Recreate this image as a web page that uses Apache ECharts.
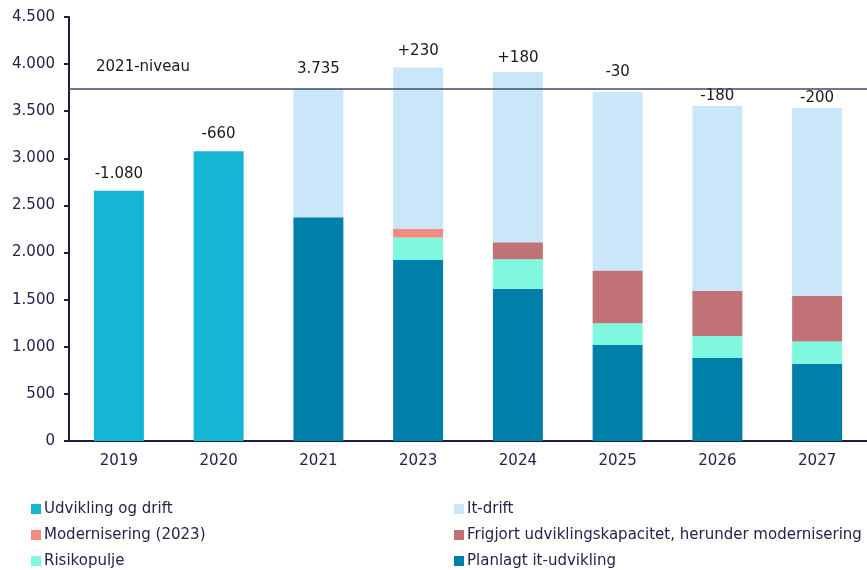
<!DOCTYPE html>
<html>
<head>
<meta charset="utf-8">
<script src="https://cdn.jsdelivr.net/npm/echarts@6/dist/echarts.min.js"></script>
<style>
html,body{margin:0;padding:0;background:#fff;}
#chart{width:867px;height:570px;}
</style>
</head>
<body>
<div id="chart"></div>
<script>
const categories = ['2019','2020','2021','2023','2024','2025','2026','2027'];
const udviklingOgDrift = [2655, 3075, null, null, null, null, null, null];
const planlagtItUdvikling = [null, null, 2375, 1920, 1615, 1020, 880, 820];
const risikopulje = [null, null, null, 240, 315, 230, 235, 235];
const modernisering2023 = [null, null, null, 90, null, null, null, null];
const frigjort = [null, null, null, null, 180, 560, 480, 485];
const itDrift = [null, null, 1360, 1715, 1805, 1895, 1960, 1995];
const topLabels = ['-1.080', '-660', '3.735', '+230', '+180', '-30', '-180', '-200'];
const niveau2021 = 3735;
const yTicks = [0, 500, 1000, 1500, 2000, 2500, 3000, 3500, 4000, 4500];

const FONT = '"DejaVu Sans", sans-serif';
const labelGap = [9, 10, 12, 9, 7, 12, 2, 2];

function fmt(v){ return String(v).replace(/\B(?=(\d{3})+(?!\d))/g, '.'); }

function topLabel(isTop){
  return {
    show: true, position: 'top', color: '#1a1a1a', fontSize: 15, fontFamily: FONT,
    formatter: p => isTop(p.dataIndex) ? topLabels[p.dataIndex] : ''
  };
}

function withLabels(arr, isTop){
  return arr.map((v, i) => {
    if (v == null) return v;
    if (!isTop(i)) return v;
    return { value: v, label: { distance: labelGap[i] } };
  });
}

const chart = echarts.init(document.getElementById('chart'), null, {renderer: 'canvas'});
const isUdTop = i => udviklingOgDrift[i] != null;
const isItTop = i => itDrift[i] != null;

const legendText = { fontSize: 15, color: '#24234a', fontFamily: FONT, lineHeight: 18, padding: [0,0,0,-2] };

const option = {
  animation: false,
  textStyle: { fontFamily: FONT },
  grid: { left: 69, top: 17, width: 802, bottom: 129 },
  legend: [
    {
      orient: 'vertical', left: 31, top: 500, padding: 0, itemWidth: 10, itemHeight: 10, itemGap: 8,
      icon: 'rect', textStyle: legendText,
      data: ['Udvikling og drift', 'Modernisering (2023)', 'Risikopulje']
    },
    {
      orient: 'vertical', left: 454, top: 500, padding: 0, itemWidth: 10, itemHeight: 10, itemGap: 8,
      icon: 'rect', textStyle: legendText,
      data: ['It-drift', 'Frigjort udviklingskapacitet, herunder modernisering', 'Planlagt it-udvikling']
    }
  ],
  xAxis: {
    type: 'category', data: categories,
    axisLine: { lineStyle: { color: '#1f1d3d', width: 2 } },
    axisTick: { show: false },
    axisLabel: { color: '#24234a', fontSize: 15, margin: 13, fontFamily: FONT }
  },
  yAxis: {
    type: 'value', min: yTicks[0], max: yTicks[yTicks.length-1], interval: 500,
    splitLine: { show: false },
    axisLine: { show: true, lineStyle: { color: '#1f1d3d', width: 2 } },
    axisTick: { show: true, length: 5, lineStyle: { color: '#1f1d3d', width: 2 } },
    axisLabel: { color: '#24234a', fontSize: 15, margin: 14, fontFamily: FONT, formatter: v => fmt(v) }
  },
  series: [
    { name: 'Udvikling og drift', type: 'bar', stack: 'a', barWidth: 50, itemStyle: { color: '#14b6d3' },
      data: withLabels(udviklingOgDrift, isUdTop), label: topLabel(isUdTop),
      markLine: { symbol: 'none', silent: true, label: { show: false },
        lineStyle: { color: '#3f4b63', width: 1.5, type: 'solid' },
        data: [{ yAxis: niveau2021 }] } },
    { name: 'Planlagt it-udvikling', type: 'bar', stack: 'a', barWidth: 50, itemStyle: { color: '#007fa8' }, data: planlagtItUdvikling },
    { name: 'Risikopulje', type: 'bar', stack: 'a', barWidth: 50, itemStyle: { color: '#80f8e0' }, data: risikopulje },
    { name: 'Modernisering (2023)', type: 'bar', stack: 'a', barWidth: 50, itemStyle: { color: '#f48b80' }, data: modernisering2023 },
    { name: 'Frigjort udviklingskapacitet, herunder modernisering', type: 'bar', stack: 'a', barWidth: 50, itemStyle: { color: '#c07276' }, data: frigjort },
    { name: 'It-drift', type: 'bar', stack: 'a', barWidth: 50, itemStyle: { color: '#cae7fa' },
      data: withLabels(itDrift, isItTop), label: topLabel(isItTop) }
  ]
};
chart.setOption(option);

const yPix = chart.convertToPixel({ yAxisIndex: 0 }, niveau2021);
chart.setOption({
  graphic: [{
    type: 'text', left: 96, top: yPix - 29,
    style: { text: '2021-niveau', fontSize: 15, fill: '#1a1a1a', fontFamily: FONT }
  }]
});
</script>
</body>
</html>
